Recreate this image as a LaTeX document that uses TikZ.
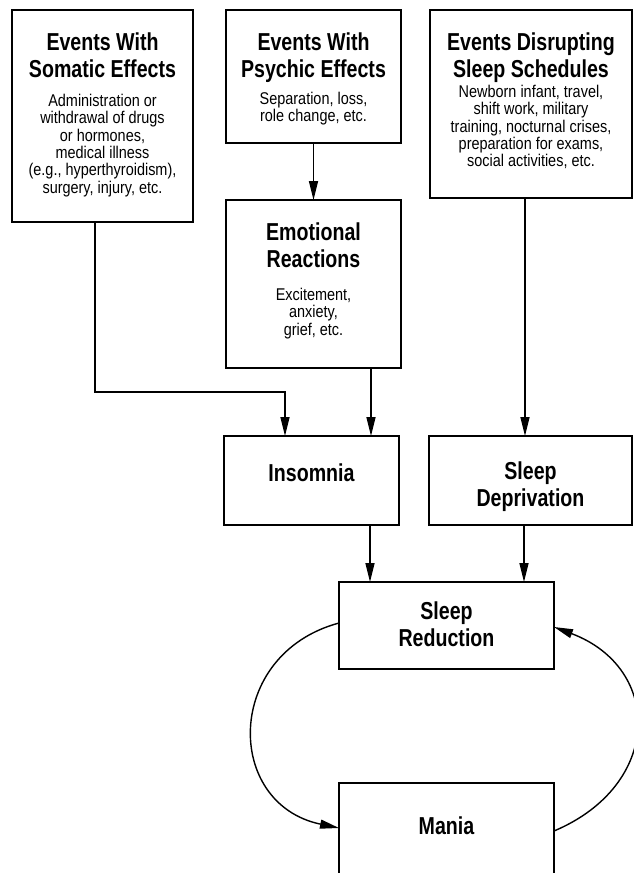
\documentclass[tikz,border=0pt]{standalone}
\usepackage{fontspec}
\setmainfont{Liberation Sans}
\newfontfamily\titlef{Liberation Sans}[FakeStretch=0.8]
\newfontfamily\bodyf{Liberation Sans}[FakeStretch=0.85]
\usetikzlibrary{arrows.meta}
\begin{document}
\begin{tikzpicture}[x=1pt,y=-1pt,
  box/.style={draw, line width=1.6pt, rectangle, inner sep=0pt, outer sep=0pt},
  ttl/.style={font=\titlef\bfseries\fontsize{24.5}{27}\selectfont, align=center, inner sep=0pt, anchor=north},
  bdy/.style={font=\bodyf\fontsize{17}{17.3}\selectfont, align=center, inner sep=0pt, anchor=north},
  arr/.style={line width=1.4pt, -{Triangle[length=19pt,width=9pt]}}]
\useasboundingbox (0,0) rectangle (634,873);
\clip (0,0) rectangle (634,873);
% boxes
\node[box, minimum width=181pt, minimum height=212pt] (soma) at (102.5,116) {};
\node[box, minimum width=175pt, minimum height=133pt] (psy) at (313.5,76.5) {};
\node[box, minimum width=202pt, minimum height=188pt] (dis) at (531,104) {};
\node[box, minimum width=175pt, minimum height=168pt] (emo) at (313.5,284) {};
\node[box, minimum width=175pt, minimum height=89pt] (ins) at (311.5,480.5) {};
\node[box, minimum width=203pt, minimum height=89pt] (dep) at (530.5,480.5) {};
\node[box, minimum width=215pt, minimum height=87pt] (red) at (446.5,625.5) {};
\node[box, minimum width=215pt, minimum height=112pt] (man) at (446.5,839) {};
% texts
\node[ttl] (somaT) at (102.5,32.5) {Events With\\Somatic Effects};
\node[bdy] (somaB) at (102.5,94) {Administration or\\withdrawal of drugs\\or hormones,\\medical illness\\(e.g., hyperthyroidism),\\surgery, injury, etc.};
\node[ttl] (psyT) at (313.5,33) {Events With\\Psychic Effects};
\node[bdy] (psyB) at (313.5,92) {Separation, loss,\\role change, etc.};
\node[ttl] (disT) at (531,33) {Events Disrupting\\Sleep Schedules};
\node[bdy] (disB) at (531,85) {Newborn infant, travel,\\shift work, military\\training, nocturnal crises,\\preparation for exams,\\social activities, etc.};
\node[ttl] (emoT) at (313.5,223) {Emotional\\Reactions};
\node[bdy] (emoB) at (313.5,288) {Excitement,\\anxiety,\\grief, etc.};
\node[ttl] (insT) at (311.5,464) {Insomnia};
\node[ttl] (depT) at (530.5,462) {Sleep\\Deprivation};
\node[ttl] (redT) at (446.5,602) {Sleep\\Reduction};
\node[ttl] (manT) at (446.5,817) {Mania};
% connectors
\coordinate (k1) at (95,392);
\coordinate (k2) at (285,392);
\draw[arr] (soma.south -| k1) -- (k1) -- (k2) -- (ins.north -| k2);
\draw[arr] (psy) -- (emo);
\draw[arr] ([xshift=57.5pt]emo.south) -- ([xshift=57.5pt]emo.south |- ins.north);
\draw[arr] ([xshift=-6pt]dis.south) -- ([xshift=-6pt]dis.south |- dep.north);
\draw[arr] ([xshift=58.5pt]ins.south) -- ([xshift=58.5pt]ins.south |- red.north);
\draw[arr] ([xshift=-6.5pt]dep.south) -- ([xshift=-6.5pt]dep.south |- red.north);
\draw[arr] ([yshift=2.5pt]red.west) .. controls (224,654) and (224,804) .. ([yshift=11pt]man.west);
\draw[arr] ([yshift=8pt]man.east) .. controls (663,785) and (663,668) .. ([yshift=-1.5pt]red.east);
\end{tikzpicture}
\end{document}
